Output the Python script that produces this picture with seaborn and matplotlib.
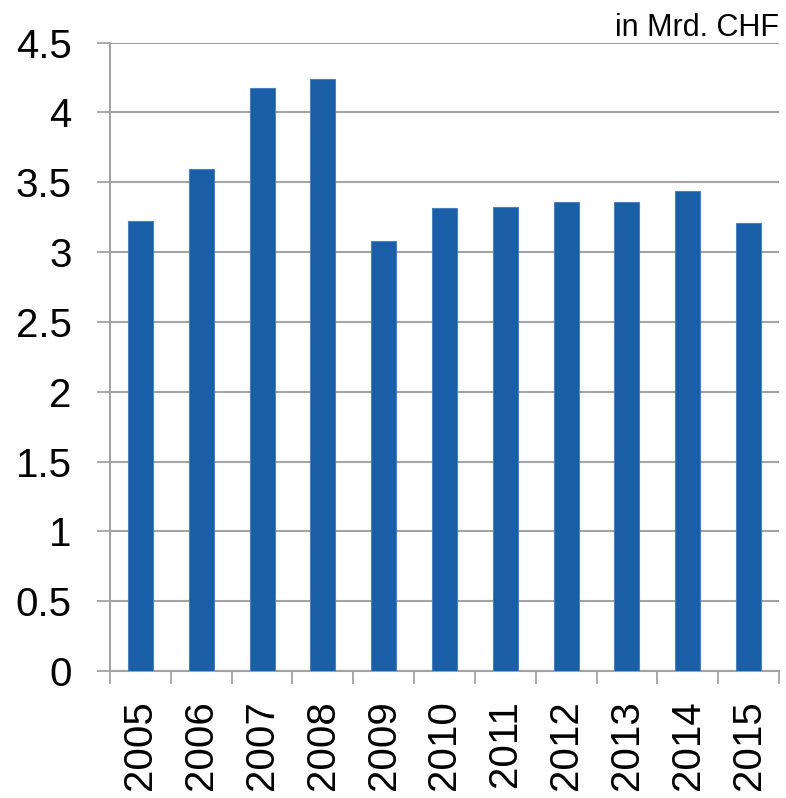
import numpy as np
import pandas as pd
import matplotlib
matplotlib.use('Agg')
import matplotlib.pyplot as plt
import seaborn as sns

years = ['2005', '2006', '2007', '2008', '2009', '2010',
         '2011', '2012', '2013', '2014', '2015']
values = [3.224, 3.596, 4.175, 4.237, 3.076, 3.319,
          3.324, 3.360, 3.357, 3.438, 3.210]
y_ticks = [0, 0.5, 1, 1.5, 2, 2.5, 3, 3.5, 4, 4.5]
y_ticklabels = ['0', '0.5', '1', '1.5', '2', '2.5', '3', '3.5', '4', '4.5']
unit_label = 'in Mrd. CHF'

data = pd.DataFrame({'year': years, 'value': values})

sns.set_style('white')
plt.rcParams['font.family'] = ['Liberation Sans', 'DejaVu Sans']
plt.rcParams['text.color'] = 'black'
plt.rcParams['xtick.labelcolor'] = 'black'
plt.rcParams['ytick.labelcolor'] = 'black'

grey = '#a3a3a3'
fig = plt.figure(figsize=(7.86, 7.98), dpi=100)
ax = fig.add_axes([0.14, 0.159, 0.851, 0.7877])

sns.barplot(data=data, x='year', y='value', color='#1a5ea8', saturation=1,
            width=0.41, edgecolor='#4a80c0', linewidth=0.8, ax=ax, zorder=3)

ax.set_xlim(-0.5, len(years) - 0.5)
ax.set_ylim(0, 4.5)
ax.set_yticks(y_ticks)
ax.set_yticklabels(y_ticklabels)
ax.yaxis.grid(True, color=grey, linewidth=1.5, zorder=0)
ax.set_axisbelow(True)

# labels centred on the bars, tick marks on the category borders
ax.set_xticks(range(len(years)))
ax.set_xticklabels(years, rotation=90)
ax.set_xticks(np.arange(-0.5, len(years), 1), minor=True)
ax.tick_params(axis='x', which='major', length=0, pad=21, labelsize=29, labelcolor='black')
ax.tick_params(axis='x', which='minor', length=9.5, width=1.3, color=grey, bottom=True)
ax.tick_params(axis='y', length=9.5, width=1.3, color=grey, pad=18, labelsize=29,
               labelcolor='black', left=True)

for side in ['top', 'right']:
    ax.spines[side].set_visible(False)
for side in ['left', 'bottom']:
    ax.spines[side].set_color(grey)
    ax.spines[side].set_linewidth(1.5)

ax.set_xlabel('')
ax.set_ylabel('')
fig.text(0.991, 0.955, unit_label, ha='right', va='baseline', fontsize=22, color='black')

fig.savefig('out.png', dpi=100)
